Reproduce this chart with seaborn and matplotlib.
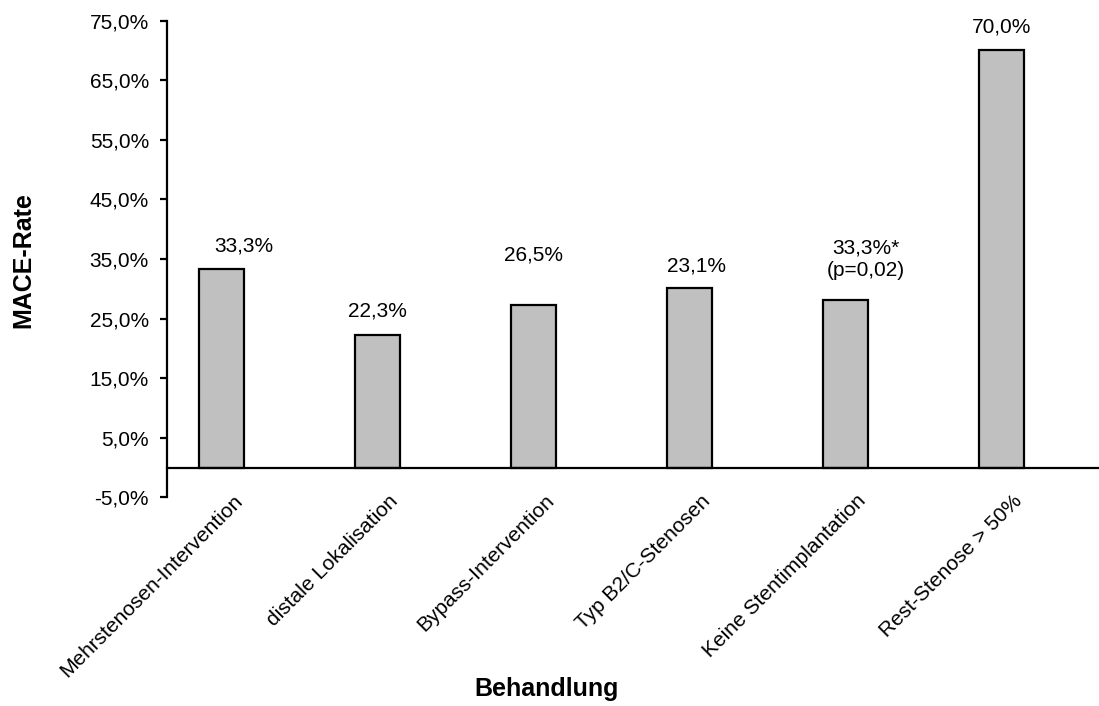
import numpy as np
import pandas as pd
import matplotlib
matplotlib.use("Agg")
import matplotlib.pyplot as plt
from matplotlib.ticker import FuncFormatter
import seaborn as sns

# ---- data ----
categories = ["Mehrstenosen-Intervention", "distale Lokalisation", "Bypass-Intervention",
              "Typ B2/C-Stenosen", "Keine Stentimplantation", "Rest-Stenose > 50%"]
mace_rate = [33.3, 22.3, 27.3, 30.2, 28.2, 70.0]
value_labels = ["33,3%", "22,3%", "26,5%", "23,1%", "33,3%*\n(p=0,02)", "70,0%"]
y_ticks = [-5, 5, 15, 25, 35, 45, 55, 65, 75]

sns.set_theme(style="white")
plt.rcParams['font.family'] = ['Liberation Sans', 'DejaVu Sans']
for k in ["text.color", "xtick.color", "ytick.color", "axes.labelcolor"]:
    plt.rcParams[k] = "black"

W, H = 1099, 706
fig = plt.figure(figsize=(W / 100, H / 100), dpi=100)
ax = fig.add_axes([166.7 / W, 208.7 / H, (1102.4 - 166.7) / W, (497.3 - 20.7) / H])

df = pd.DataFrame({"Behandlung": categories, "MACE": mace_rate})
sns.barplot(data=df, x="Behandlung", y="MACE", order=categories, color="#C0C0C0",
            saturation=1, edgecolor="black", linewidth=1.6, width=0.2885, ax=ax)

shift = 0.147  # category centre relative to bar centre
ax.set_xlim(-0.5 + shift, len(categories) - 0.5 + shift)
ax.set_ylim(-5, 75)
ax.set_yticks(y_ticks)
ax.yaxis.set_major_formatter(FuncFormatter(lambda v, p: f"{v:.1f}".replace(".", ",") + "%"))

for s in ["top", "right"]:
    ax.spines[s].set_visible(False)
ax.spines["bottom"].set_position(("data", 0))
for s in ["left", "bottom"]:
    ax.spines[s].set_linewidth(1.6)
    ax.spines[s].set_color("black")

n = len(categories)
ax.set_xticks([i - 0.5 + shift for i in range(1, n)], labels=[""] * (n - 1))
label_shift = shift - 0.077
ax.set_xticks([i + label_shift for i in range(n)], minor=True)
ax.set_xticklabels(categories, minor=True, rotation=45, ha="right",
                   rotation_mode="anchor", fontsize=15)
ax.tick_params(axis="x", which="major", direction="out", length=4.8, width=1.6, color="black")
ax.tick_params(axis="x", which="minor", length=0, pad=17)
ax.tick_params(axis="y", direction="out", length=4.8, width=1.6, color="black",
               labelsize=15, pad=8, left=True)
ax.set_xlabel("")
ax.set_ylabel("")

# value labels (manual text boxes as in original)
label_dx = [0.141, 0.0, 0.0, 0.045, 0.13, 0.0]
label_y = [37.2, 26.2, 35.6, 33.9, 35.0, 73.9]
for i, (txt, dx, yy) in enumerate(zip(value_labels, label_dx, label_y)):
    ax.text(i + dx, yy, txt, ha="center", va="center", fontsize=15,
            linespacing=1.25, color="black")

fig.text(23 / W, 1 - 260 / H, "MACE-Rate", rotation=90, ha="center", va="center",
         fontsize=18, fontweight="bold")
fig.text(547 / W, 1 - 689 / H, "Behandlung", ha="center", va="center",
         fontsize=18, fontweight="bold")

fig.savefig("out.png", dpi=100, facecolor="white")
